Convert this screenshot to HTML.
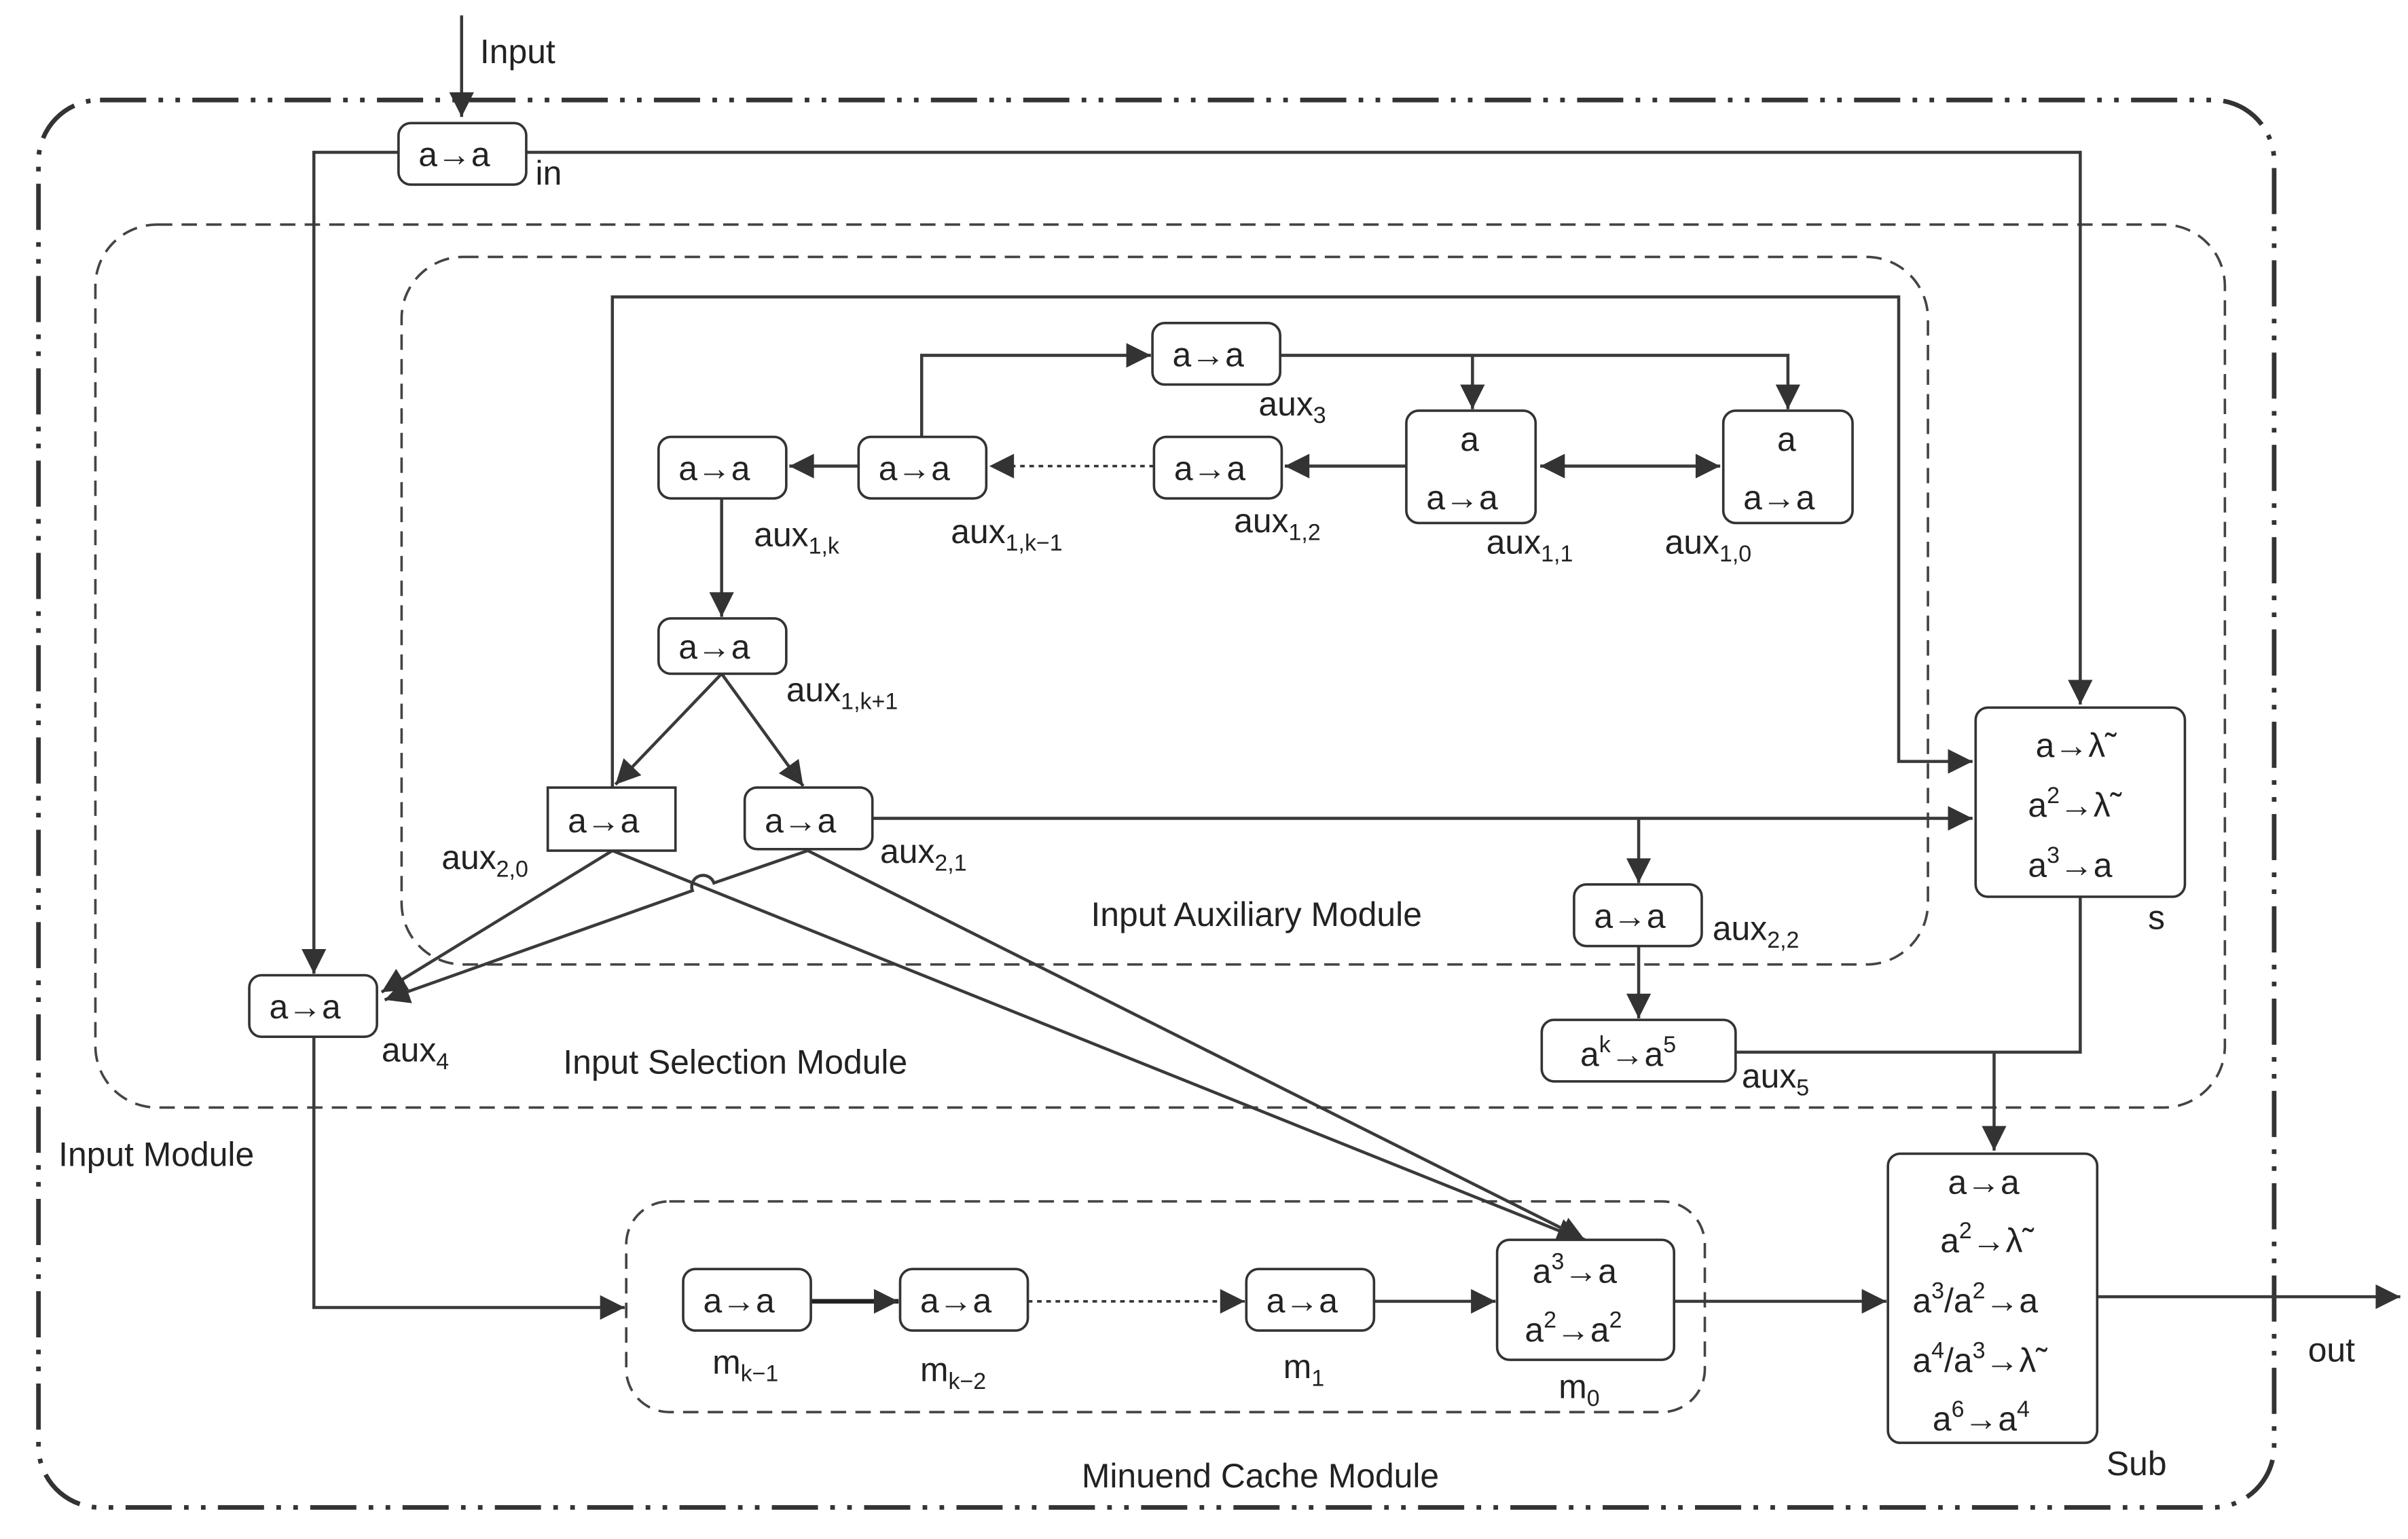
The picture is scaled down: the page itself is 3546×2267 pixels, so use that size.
<!DOCTYPE html>
<html><head><meta charset="utf-8"><style>
html,body{margin:0;padding:0;background:#fff;}
svg{display:block;}
text{font-family:"Liberation Sans","DejaVu Sans",sans-serif;fill:#222;font-size:22px;}
.b{fill:#fff;stroke:#333;stroke-width:1.6;}
.l{fill:none;stroke:#3a3a3a;stroke-width:2;}
.d{fill:none;stroke:#444;stroke-width:1.6;stroke-dasharray:10,6;}
</style></head><body>
<svg width="3546" height="2267" viewBox="0 0 1565 1000.5" xmlns="http://www.w3.org/2000/svg">
<defs>
<marker id="a" viewBox="0 0 10 10" refX="10" refY="5" markerWidth="9" markerHeight="9" markerUnits="userSpaceOnUse" orient="auto"><path d="M0,0L10,5L0,10z" fill="#333"/></marker>
<marker id="A" viewBox="0 0 10 10" refX="10" refY="5" markerWidth="18" markerHeight="16" markerUnits="userSpaceOnUse" orient="auto"><path d="M0,0L10,5L0,10z" fill="#333"/></marker>
<marker id="s" viewBox="0 0 10 10" refX="0" refY="5" markerWidth="18" markerHeight="16" markerUnits="userSpaceOnUse" orient="auto"><path d="M10,0L0,5L10,10z" fill="#333"/></marker>
</defs>
<!-- outer module -->
<rect x="25" y="65" width="1453" height="915" rx="40" fill="none" stroke="#333" stroke-width="3" stroke-dasharray="30,8,3,8,3,8"/>
<rect x="62" y="146" width="1384" height="574" rx="40" class="d"/>
<rect x="261" y="167" width="992" height="460" rx="40" class="d"/>
<rect x="407" y="781" width="701" height="137" rx="28" class="d"/>

<!-- input -->
<line x1="300" y1="10" x2="300" y2="76" class="l" marker-end="url(#A)"/>
<text x="312" y="41">Input</text>

<!-- connectors -->
<polyline points="259,99 204,99 204,633" class="l" marker-end="url(#A)"/>
<polyline points="342,99 1352,99 1352,458" class="l" marker-end="url(#A)"/>
<polyline points="832,231 1162,231 1162,266" class="l" marker-end="url(#A)"/>
<line x1="957" y1="231" x2="957" y2="266" class="l" marker-end="url(#A)"/>
<polyline points="599,284 599,231 748,231" class="l" marker-end="url(#A)"/>
<line x1="1001" y1="303" x2="1118" y2="303" class="l" marker-start="url(#s)" marker-end="url(#A)"/>
<line x1="914" y1="303" x2="835" y2="303" class="l" marker-end="url(#A)"/>
<line x1="750" y1="303" x2="643" y2="303" stroke="#333" stroke-width="1.6" stroke-dasharray="3,3" marker-end="url(#A)"/>
<line x1="558" y1="303" x2="513" y2="303" class="l" marker-end="url(#A)"/>
<line x1="469" y1="324" x2="469" y2="401" class="l" marker-end="url(#A)"/>
<line x1="469" y1="438" x2="400" y2="510" class="l" marker-end="url(#A)"/>
<line x1="469" y1="438" x2="522" y2="511" class="l" marker-end="url(#A)"/>
<polyline points="398,512 398,193 1234,193 1234,495 1282,495" class="l" marker-end="url(#A)"/>
<line x1="567" y1="532" x2="1282" y2="532" class="l" marker-end="url(#A)"/>
<line x1="1065" y1="532" x2="1065" y2="574" class="l" marker-end="url(#A)"/>
<line x1="1065" y1="615" x2="1065" y2="662" class="l" marker-end="url(#A)"/>
<polyline points="1128,684 1352,684 1352,583" class="l"/>
<line x1="1296" y1="684" x2="1296" y2="748" class="l" marker-end="url(#A)"/>
<line x1="398" y1="553" x2="248" y2="645" class="l" marker-end="url(#A)"/>
<path d="M525,553 L464,574 A7,7 0 0 0 450,579 L250,650" class="l" marker-end="url(#A)"/>
<line x1="398" y1="553" x2="1028" y2="806" class="l" marker-end="url(#A)"/>
<line x1="525" y1="553" x2="1030" y2="806" class="l" marker-end="url(#A)"/>
<polyline points="204,674 204,850 406,850" class="l" marker-end="url(#A)"/>
<line x1="527" y1="846" x2="584" y2="846" stroke="#222" stroke-width="3" marker-end="url(#A)"/>
<line x1="668" y1="846" x2="809" y2="846" stroke="#333" stroke-width="1.6" stroke-dasharray="3,3" marker-end="url(#A)"/>
<line x1="893" y1="846" x2="972" y2="846" class="l" marker-end="url(#A)"/>
<line x1="1088" y1="846" x2="1226" y2="846" class="l" marker-end="url(#A)"/>
<line x1="1363" y1="843" x2="1560" y2="843" class="l" marker-end="url(#A)"/>

<!-- boxes -->
<rect x="259" y="80" width="83" height="40" rx="8" class="b"/><text x="272" y="108">a→a</text>
<text x="348" y="120">in</text>
<rect x="749" y="210" width="83" height="40" rx="8" class="b"/><text x="762" y="238">a→a</text>
<text x="818" y="270">aux<tspan font-size="15" dy="5">3</tspan></text>
<rect x="428" y="284" width="83" height="40" rx="8" class="b"/><text x="441" y="312">a→a</text>
<text x="490" y="355">aux<tspan font-size="15" dy="5">1,k</tspan></text>
<rect x="558" y="284" width="83" height="40" rx="8" class="b"/><text x="571" y="312">a→a</text>
<text x="618" y="353">aux<tspan font-size="15" dy="5">1,k−1</tspan></text>
<rect x="750" y="284" width="83" height="40" rx="8" class="b"/><text x="763" y="312">a→a</text>
<text x="802" y="346">aux<tspan font-size="15" dy="5">1,2</tspan></text>
<rect x="914" y="267" width="84" height="73" rx="8" class="b"/><text x="949" y="293">a</text><text x="927" y="331">a→a</text>
<text x="966" y="360">aux<tspan font-size="15" dy="5">1,1</tspan></text>
<rect x="1120" y="267" width="84" height="73" rx="8" class="b"/><text x="1155" y="293">a</text><text x="1133" y="331">a→a</text>
<text x="1082" y="360">aux<tspan font-size="15" dy="5">1,0</tspan></text>
<rect x="428" y="402" width="83" height="36" rx="8" class="b"/><text x="441" y="428">a→a</text>
<text x="511" y="456">aux<tspan font-size="15" dy="5">1,k+1</tspan></text>
<rect x="356" y="512" width="83" height="41" class="b"/><text x="369" y="541">a→a</text>
<text x="287" y="565">aux<tspan font-size="15" dy="5">2,0</tspan></text>
<rect x="484" y="512" width="83" height="40" rx="8" class="b"/><text x="497" y="541">a→a</text>
<text x="572" y="561">aux<tspan font-size="15" dy="5">2,1</tspan></text>
<rect x="1023" y="575" width="83" height="40" rx="8" class="b"/><text x="1036" y="603">a→a</text>
<text x="1113" y="611">aux<tspan font-size="15" dy="5">2,2</tspan></text>
<rect x="1002" y="663" width="126" height="40" rx="8" class="b"/><text x="1027" y="693">a<tspan font-size="15" dy="-9">k</tspan><tspan dy="9">→a</tspan><tspan font-size="15" dy="-9">5</tspan></text>
<text x="1132" y="707">aux<tspan font-size="15" dy="5">5</tspan></text>
<rect x="1284" y="460" width="136" height="123" rx="8" class="b"/>
<text x="1323" y="492">a→λ̃</text>
<text x="1318" y="531">a<tspan font-size="15" dy="-9">2</tspan><tspan dy="9">→λ̃</tspan></text>
<text x="1318" y="570">a<tspan font-size="15" dy="-9">3</tspan><tspan dy="9">→a</tspan></text>
<text x="1396" y="604">s</text>
<rect x="162" y="634" width="83" height="40" rx="8" class="b"/><text x="175" y="662">a→a</text>
<text x="248" y="690">aux<tspan font-size="15" dy="5">4</tspan></text>

<rect x="444" y="825" width="83" height="40" rx="8" class="b"/><text x="457" y="853">a→a</text>
<text x="463" y="893">m<tspan font-size="15" dy="5">k−1</tspan></text>
<rect x="585" y="825" width="83" height="40" rx="8" class="b"/><text x="598" y="853">a→a</text>
<text x="598" y="898">m<tspan font-size="15" dy="5">k−2</tspan></text>
<rect x="810" y="825" width="83" height="40" rx="8" class="b"/><text x="823" y="853">a→a</text>
<text x="834" y="896">m<tspan font-size="15" dy="5">1</tspan></text>
<rect x="973" y="806" width="115" height="78" rx="8" class="b"/>
<text x="996" y="834">a<tspan font-size="15" dy="-9">3</tspan><tspan dy="9">→a</tspan></text>
<text x="991" y="872">a<tspan font-size="15" dy="-9">2</tspan><tspan dy="9">→a</tspan><tspan font-size="15" dy="-9">2</tspan></text>
<text x="1013" y="909">m<tspan font-size="15" dy="5">0</tspan></text>

<rect x="1227" y="750" width="136" height="188" rx="8" class="b"/>
<text x="1266" y="776">a→a</text>
<text x="1261" y="814">a<tspan font-size="15" dy="-9">2</tspan><tspan dy="9">→λ̃</tspan></text>
<text x="1243" y="853">a<tspan font-size="15" dy="-9">3</tspan><tspan dy="9">/a</tspan><tspan font-size="15" dy="-9">2</tspan><tspan dy="9">→a</tspan></text>
<text x="1243" y="892">a<tspan font-size="15" dy="-9">4</tspan><tspan dy="9">/a</tspan><tspan font-size="15" dy="-9">3</tspan><tspan dy="9">→λ̃</tspan></text>
<text x="1256" y="930">a<tspan font-size="15" dy="-9">6</tspan><tspan dy="9">→a</tspan><tspan font-size="15" dy="-9">4</tspan></text>
<text x="1369" y="959">Sub</text>
<text x="1500" y="885">out</text>

<text x="709" y="602" font-size="24">Input Auxiliary Module</text>
<text x="366" y="698" font-size="24">Input Selection Module</text>
<text x="38" y="758" font-size="24">Input Module</text>
<text x="703" y="967" font-size="24">Minuend Cache Module</text>
</svg>
</body></html>
